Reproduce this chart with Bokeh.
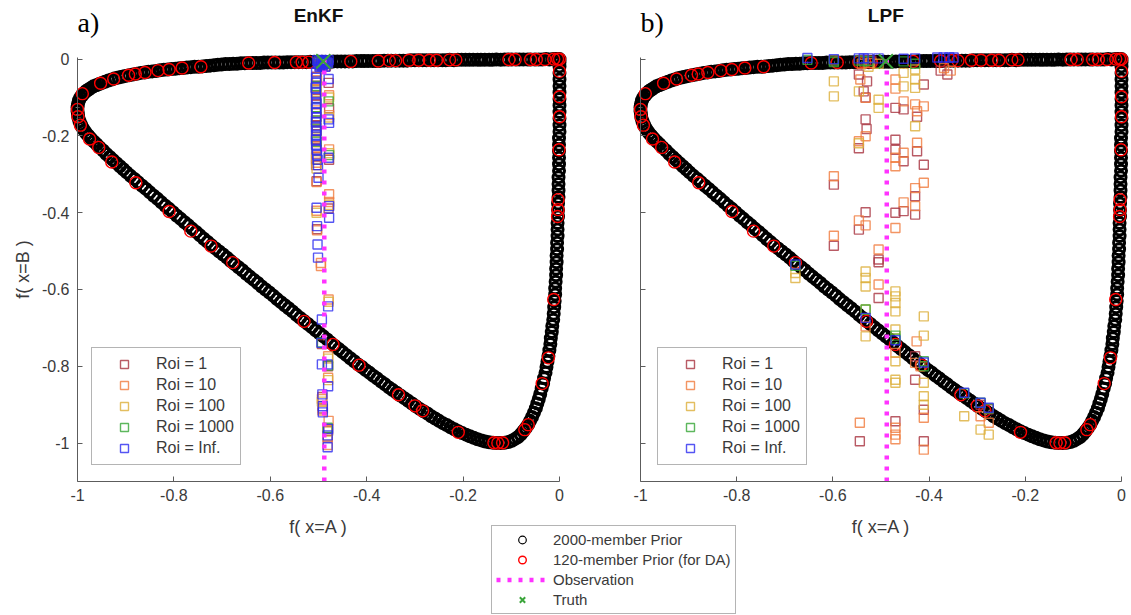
from bokeh.plotting import figure
from bokeh.models import (Range1d, LinearAxis, FixedTicker, CustomJSTickFormatter,
                          Legend, LegendItem, Label)
from bokeh.embed import file_html
from bokeh.resources import INLINE

# ---------------- data ----------------
tick_values = [-1.0, -0.8, -0.6, -0.4, -0.2, 0.0]
y_lim = [-1.1, 0.005]
obs_x = -0.488
truth_x = [-0.490]
truth_y = [-0.006]

prior_top_x = [0.000, -0.007, -0.013, -0.021, -0.028, -0.036, -0.043, -0.051, -0.060, -0.066,
               -0.075, -0.083, -0.090, -0.099, -0.107, -0.114, -0.122, -0.131, -0.139, -0.146,
               -0.155, -0.163, -0.170, -0.179, -0.187, -0.195, -0.203, -0.211, -0.219, -0.228,
               -0.236, -0.243, -0.252, -0.260, -0.267, -0.276, -0.284, -0.292, -0.300, -0.308,
               -0.316, -0.324, -0.332, -0.340, -0.349, -0.356, -0.364, -0.373, -0.381, -0.388,
               -0.397, -0.405, -0.412, -0.421, -0.429, -0.437, -0.445, -0.453, -0.461, -0.469,
               -0.477, -0.485, -0.493, -0.501, -0.509, -0.517, -0.525, -0.533, -0.541, -0.549,
               -0.557, -0.565, -0.573, -0.581, -0.589, -0.597, -0.605, -0.613, -0.621, -0.629,
               -0.637, -0.645, -0.653, -0.661, -0.669, -0.677, -0.685, -0.693, -0.701, -0.709,
               -0.717, -0.725, -0.733, -0.741, -0.749, -0.757, -0.765, -0.773, -0.781, -0.789,
               -0.797, -0.805, -0.813, -0.821, -0.829, -0.837, -0.845, -0.853, -0.861, -0.869,
               -0.877, -0.885, -0.893, -0.901]
prior_top_y = [0.000, 0.000, 0.000, -0.001, 0.000, -0.001, -0.001, -0.001, -0.001, -0.001,
               -0.001, -0.001, -0.001, -0.001, -0.001, -0.001, -0.002, -0.001, -0.002, -0.002,
               -0.002, -0.002, -0.002, -0.002, -0.002, -0.002, -0.002, -0.002, -0.003, -0.002,
               -0.003, -0.003, -0.003, -0.003, -0.003, -0.003, -0.003, -0.003, -0.003, -0.003,
               -0.004, -0.004, -0.004, -0.004, -0.004, -0.004, -0.004, -0.005, -0.005, -0.005,
               -0.005, -0.005, -0.005, -0.005, -0.006, -0.006, -0.006, -0.006, -0.006, -0.006,
               -0.007, -0.007, -0.007, -0.007, -0.007, -0.007, -0.008, -0.008, -0.008, -0.008,
               -0.008, -0.008, -0.009, -0.009, -0.009, -0.009, -0.009, -0.009, -0.010, -0.010,
               -0.010, -0.010, -0.011, -0.011, -0.012, -0.012, -0.013, -0.013, -0.014, -0.015,
               -0.016, -0.017, -0.018, -0.019, -0.020, -0.020, -0.021, -0.022, -0.023, -0.024,
               -0.025, -0.026, -0.027, -0.028, -0.029, -0.031, -0.032, -0.033, -0.035, -0.036,
               -0.038, -0.040, -0.042, -0.044]

prior_bend_x = [-0.908, -0.915, -0.922, -0.929, -0.936, -0.943, -0.949, -0.955, -0.961, -0.967,
                -0.972, -0.977, -0.982, -0.986, -0.990, -0.994, -0.997, -0.999, -1.000, -1.000,
                -0.999, -0.998, -0.996, -0.993, -0.990, -0.986, -0.982, -0.977, -0.972, -0.966,
                -0.960, -0.954, -0.947, -0.940, -0.933, -0.926, -0.919, -0.912, -0.905]
prior_bend_y = [-0.046, -0.048, -0.050, -0.053, -0.056, -0.059, -0.062, -0.065, -0.068, -0.071,
                -0.075, -0.079, -0.083, -0.088, -0.094, -0.100, -0.108, -0.117, -0.126, -0.135,
                -0.144, -0.153, -0.162, -0.170, -0.178, -0.186, -0.193, -0.200, -0.207, -0.215,
                -0.222, -0.230, -0.238, -0.247, -0.255, -0.263, -0.271, -0.279, -0.287]

prior_diag_x = [-0.898, -0.890, -0.882, -0.874, -0.866, -0.858, -0.850, -0.842, -0.834, -0.826,
                -0.818, -0.810, -0.802, -0.794, -0.786, -0.778, -0.770, -0.762, -0.754, -0.746,
                -0.738, -0.730, -0.722, -0.714, -0.706, -0.698, -0.690, -0.682, -0.674, -0.666,
                -0.658, -0.650, -0.642, -0.634, -0.626, -0.618, -0.610, -0.602, -0.594, -0.586,
                -0.578, -0.570, -0.562, -0.554, -0.546, -0.538, -0.530, -0.522, -0.514, -0.506,
                -0.498, -0.490, -0.482, -0.474, -0.466, -0.458, -0.450, -0.442, -0.434, -0.426,
                -0.418, -0.410, -0.402, -0.394, -0.386, -0.378, -0.370, -0.362, -0.354, -0.346,
                -0.338, -0.330, -0.322, -0.314, -0.306, -0.298, -0.290, -0.282, -0.274, -0.266,
                -0.258, -0.250, -0.242, -0.234, -0.226, -0.218, -0.210, -0.202]
prior_diag_y = [-0.295, -0.304, -0.312, -0.321, -0.330, -0.338, -0.347, -0.356, -0.364, -0.373,
                -0.382, -0.390, -0.399, -0.408, -0.416, -0.425, -0.433, -0.442, -0.450, -0.459,
                -0.468, -0.476, -0.485, -0.493, -0.501, -0.509, -0.517, -0.526, -0.534, -0.542,
                -0.550, -0.559, -0.567, -0.575, -0.583, -0.592, -0.600, -0.608, -0.616, -0.625,
                -0.633, -0.641, -0.649, -0.657, -0.666, -0.674, -0.682, -0.690, -0.698, -0.706,
                -0.714, -0.722, -0.730, -0.739, -0.747, -0.755, -0.763, -0.771, -0.779, -0.787,
                -0.795, -0.802, -0.810, -0.817, -0.825, -0.832, -0.840, -0.847, -0.855, -0.862,
                -0.869, -0.876, -0.883, -0.890, -0.897, -0.904, -0.911, -0.917, -0.923, -0.930,
                -0.936, -0.942, -0.948, -0.953, -0.959, -0.964, -0.969, -0.974]

prior_right_x = [-0.194, -0.186, -0.178, -0.170, -0.162, -0.154, -0.146, -0.138, -0.130, -0.122,
                 -0.114, -0.106, -0.099, -0.092, -0.086, -0.080, -0.075, -0.070, -0.065, -0.061,
                 -0.057, -0.053, -0.049, -0.046, -0.043, -0.040, -0.037, -0.034, -0.032, -0.029,
                 -0.027, -0.025, -0.023, -0.021, -0.019, -0.018, -0.016, -0.015, -0.013, -0.012,
                 -0.011, -0.010, -0.009, -0.009, -0.008, -0.007, -0.007, -0.006, -0.006, -0.005,
                 -0.005, -0.004, -0.004, -0.004, -0.003, -0.003, -0.003, -0.002, -0.002, -0.002,
                 -0.002, -0.001, -0.001, -0.001, -0.001, -0.001, -0.001, 0.000, 0.000, 0.000,
                 0.000, 0.000, 0.000, 0.000, 0.000, 0.000, 0.000, 0.000, 0.000]
prior_right_y = [-0.978, -0.982, -0.986, -0.990, -0.993, -0.996, -0.998, -0.999, -1.000, -1.000,
                 -0.999, -0.997, -0.994, -0.989, -0.984, -0.977, -0.969, -0.961, -0.952, -0.942,
                 -0.932, -0.921, -0.909, -0.897, -0.885, -0.872, -0.858, -0.845, -0.831, -0.817,
                 -0.802, -0.788, -0.773, -0.758, -0.742, -0.727, -0.711, -0.695, -0.679, -0.663,
                 -0.646, -0.630, -0.613, -0.597, -0.580, -0.563, -0.546, -0.529, -0.512, -0.495,
                 -0.478, -0.461, -0.444, -0.427, -0.410, -0.393, -0.376, -0.359, -0.342, -0.325,
                 -0.308, -0.291, -0.274, -0.257, -0.240, -0.223, -0.206, -0.189, -0.172, -0.155,
                 -0.138, -0.121, -0.104, -0.087, -0.070, -0.053, -0.036, -0.019, -0.008]

da_prior_x = [0.000, -0.004, -0.012, -0.030, -0.048, -0.060, -0.092, -0.105, -0.215, -0.228,
              -0.255, -0.270, -0.292, -0.312, -0.340, -0.353, -0.376, -0.433, -0.520, -0.534,
              -0.546, -0.591, -0.645, -0.744, -0.783, -0.810, -0.833, -0.860, -0.880, -0.894,
              -0.925, -0.952, -0.990, -1.000, -0.999, -0.994, -0.975, -0.956, -0.929, -0.879,
              -0.810, -0.765, -0.723, -0.678, -0.530, -0.470, -0.416, -0.334, -0.300, -0.284,
              -0.210, -0.136, -0.128, -0.118, -0.072, -0.065, -0.036, -0.023, -0.012, -0.001,
              -0.003, -0.003, 0.000, 0.000, 0.000, -0.004]
da_prior_y = [0.000, 0.000, 0.000, -0.001, -0.001, -0.001, -0.001, -0.001, -0.002, -0.002,
              -0.003, -0.003, -0.003, -0.003, -0.004, -0.004, -0.005, -0.006, -0.008, -0.008,
              -0.008, -0.009, -0.010, -0.020, -0.023, -0.027, -0.030, -0.035, -0.039, -0.042,
              -0.052, -0.063, -0.090, -0.131, -0.150, -0.172, -0.208, -0.230, -0.268, -0.322,
              -0.397, -0.448, -0.487, -0.530, -0.683, -0.743, -0.797, -0.874, -0.903, -0.916,
              -0.972, -0.999, -1.000, -0.999, -0.965, -0.952, -0.845, -0.778, -0.626, -0.236,
              -0.366, -0.392, -0.150, -0.098, -0.032, -0.410]

# EnKF analysis members (panel a)
enkf_1_x = [-0.499, -0.493, -0.487, -0.481, -0.497, -0.485, -0.504, -0.505, -0.505, -0.504,
            -0.505, -0.504, -0.505, -0.504, -0.503, -0.479, -0.478, -0.478, -0.479, -0.493,
            -0.492, -0.491, -0.480, -0.480, -0.481, -0.505, -0.505, -0.504, -0.505]
enkf_1_y = [-0.008, -0.011, -0.009, -0.013, -0.017, -0.019, -0.046, -0.080, -0.118, -0.150,
            -0.203, -0.232, -0.262, -0.318, -0.443, -0.062, -0.128, -0.262, -0.389, -0.742,
            -0.880, -0.910, -0.800, -0.968, -0.985, -0.095, -0.172, -0.188, -0.276]
enkf_10_x = [-0.499, -0.492, -0.486, -0.503, -0.505, -0.505, -0.505, -0.505, -0.504, -0.504,
             -0.504, -0.503, -0.495, -0.495, -0.478, -0.478, -0.478, -0.478, -0.478, -0.479,
             -0.480, -0.480, -0.479, -0.493, -0.492, -0.481, -0.481, -0.505, -0.505, -0.505,
             -0.504]
enkf_10_y = [-0.012, -0.015, -0.013, -0.055, -0.110, -0.140, -0.210, -0.255, -0.270, -0.320,
             -0.395, -0.446, -0.531, -0.539, -0.094, -0.146, -0.235, -0.352, -0.372, -0.626,
             -0.774, -0.830, -0.942, -0.885, -0.915, -0.963, -1.005, -0.072, -0.160, -0.186,
             -0.228]
enkf_100_x = [-0.498, -0.491, -0.485, -0.504, -0.505, -0.505, -0.505, -0.504, -0.504, -0.478,
              -0.478, -0.478, -0.478, -0.479, -0.480, -0.480, -0.493, -0.481, -0.505, -0.505,
              -0.504]
enkf_100_y = [-0.010, -0.013, -0.011, -0.085, -0.125, -0.180, -0.240, -0.285, -0.400, -0.100,
              -0.152, -0.245, -0.380, -0.632, -0.780, -0.836, -0.892, -0.970, -0.058, -0.215,
              -0.262]
enkf_1000_x = [-0.500, -0.494, -0.488, -0.482, -0.505, -0.505, -0.504, -0.479, -0.478, -0.493,
               -0.480, -0.481, -0.505]
enkf_1000_y = [-0.006, -0.010, -0.007, -0.012, -0.070, -0.160, -0.215, -0.110, -0.250, -0.738,
               -0.798, -0.960, -0.125]
enkf_inf_x = [-0.503, -0.499, -0.495, -0.491, -0.487, -0.483, -0.479, -0.501, -0.496, -0.490,
              -0.485, -0.480, -0.498, -0.492, -0.486, -0.505, -0.505, -0.505, -0.506, -0.505,
              -0.505, -0.504, -0.505, -0.504, -0.505, -0.505, -0.505, -0.504, -0.505, -0.505,
              -0.505, -0.504, -0.503, -0.502, -0.501, -0.500, -0.479, -0.479, -0.478, -0.479,
              -0.478, -0.478, -0.493, -0.494, -0.493, -0.492, -0.491, -0.491, -0.480, -0.481,
              -0.480, -0.480, -0.481, -0.481, -0.504, -0.503, -0.502, -0.501]
enkf_inf_y = [-0.003, -0.006, -0.002, -0.009, -0.004, -0.007, -0.003, -0.012, -0.016, -0.014,
              -0.012, -0.010, -0.020, -0.019, -0.020, -0.035, -0.049, -0.062, -0.075, -0.088,
              -0.101, -0.115, -0.128, -0.140, -0.152, -0.165, -0.178, -0.186, -0.197, -0.210,
              -0.223, -0.236, -0.249, -0.262, -0.276, -0.309, -0.052, -0.157, -0.166, -0.257,
              -0.383, -0.413, -0.678, -0.739, -0.795, -0.873, -0.904, -0.920, -0.644, -0.795,
              -0.852, -0.963, -0.980, -1.011, -0.387, -0.435, -0.483, -0.517]

# LPF analysis members (panel b)
lpf_1_x = [-0.546, -0.529, -0.536, -0.532, -0.470, -0.453, -0.425, -0.411, -0.532, -0.530,
           -0.546, -0.470, -0.470, -0.453, -0.425, -0.411, -0.598, -0.429, -0.429, -0.453,
           -0.470, -0.532, -0.546, -0.598, -0.505, -0.376, -0.362, -0.505, -0.505, -0.429,
           -0.429, -0.411, -0.544, -0.470, -0.411, -0.536, -0.520, -0.598, -0.293, -0.276]
lpf_1_y = [-0.040, -0.058, -0.084, -0.100, -0.127, -0.131, -0.150, -0.066, -0.157, -0.182,
           -0.232, -0.210, -0.236, -0.266, -0.240, -0.275, -0.327, -0.357, -0.405, -0.396,
           -0.400, -0.399, -0.444, -0.486, -0.522, -0.030, -0.040, -0.529, -0.622, -0.774,
           -0.835, -0.913, -0.995, -0.943, -0.995, -0.002, -0.004, -0.003, -0.900, -0.912]
lpf_10_x = [-0.543, -0.532, -0.470, -0.470, -0.453, -0.429, -0.411, -0.425, -0.532, -0.546,
            -0.470, -0.470, -0.453, -0.425, -0.598, -0.411, -0.429, -0.429, -0.453, -0.470,
            -0.532, -0.546, -0.598, -0.505, -0.369, -0.355, -0.505, -0.532, -0.470, -0.426,
            -0.429, -0.411, -0.293, -0.276, -0.544, -0.470, -0.470, -0.470, -0.411, -0.418,
            -0.524, -0.540]
lpf_10_y = [-0.053, -0.101, -0.053, -0.077, -0.110, -0.118, -0.123, -0.136, -0.201, -0.214,
            -0.257, -0.279, -0.244, -0.218, -0.305, -0.322, -0.336, -0.383, -0.373, -0.440,
            -0.433, -0.420, -0.460, -0.496, -0.023, -0.030, -0.587, -0.696, -0.765, -0.735,
            -0.791, -0.934, -0.930, -0.947, -0.947, -0.960, -0.978, -0.990, -1.017, -0.800,
            -0.010, -0.012]
lpf_100_x = [-0.598, -0.598, -0.546, -0.505, -0.505, -0.453, -0.453, -0.429, -0.429, -0.429,
             -0.429, -0.546, -0.532, -0.532, -0.532, -0.470, -0.470, -0.470, -0.470, -0.532,
             -0.532, -0.470, -0.470, -0.470, -0.470, -0.411, -0.411, -0.411, -0.411, -0.411,
             -0.327, -0.293, -0.276, -0.678, -0.678, -0.505, -0.526]
lpf_100_y = [-0.058, -0.097, -0.084, -0.106, -0.127, -0.036, -0.071, -0.027, -0.053, -0.075,
             -0.175, -0.219, -0.553, -0.570, -0.592, -0.605, -0.618, -0.635, -0.657, -0.652,
             -0.722, -0.704, -0.787, -0.835, -0.843, -0.670, -0.720, -0.843, -0.878, -0.900,
             -0.930, -0.965, -0.978, -0.557, -0.570, -0.012, -0.020]
lpf_1000_x = [-0.653, -0.598, -0.546, -0.536, -0.526, -0.453, -0.429, -0.532, -0.470, -0.411,
              -0.327, -0.293, -0.276, -0.678, -0.470, -0.411, -0.598]
lpf_1000_y = [-0.002, -0.004, -0.004, -0.006, -0.005, -0.006, -0.012, -0.652, -0.728, -0.787,
              -0.870, -0.895, -0.910, -0.538, -0.720, -0.800, -0.008]
lpf_inf_x = [-0.653, -0.598, -0.546, -0.536, -0.526, -0.505, -0.429, -0.383, -0.370, -0.358,
             -0.349, -0.678, -0.532, -0.470, -0.411, -0.327, -0.293, -0.276, -0.453]
lpf_inf_y = [0.003, 0.000, 0.002, 0.002, 0.002, 0.002, 0.002, 0.004, 0.004, 0.004,
             0.004, -0.535, -0.674, -0.732, -0.790, -0.869, -0.895, -0.908, 0.001]

roi_labels = ["Roi = 1", "Roi = 10", "Roi = 100", "Roi = 1000", "Roi = Inf."]
roi_colors = ["#a8323e", "#f07a3c", "#dcae38", "#35a535", "#2a2af0"]

# ---------------- figure ----------------
FONT = "Liberation Sans"
TXT = "#3a3a3a"
AXC = "#5c5c5c"

# the frame covers the whole canvas; both panels are mapped into it
p = figure(width=1131, height=615, x_range=Range1d(-1.15975, 1.18672),
           y_range=Range1d(-1.44896, 0.15260), x_axis_type=None, y_axis_type=None,
           toolbar_location=None, output_backend="svg",
           min_border_left=0, min_border_right=0, min_border_top=0, min_border_bottom=0)
p.extra_x_ranges = {"b": Range1d(-2.33056, 0.02079)}
p.outline_line_color = None
p.background_fill_color = "white"
p.border_fill_color = "white"

fmt = CustomJSTickFormatter(code="return String(Math.round(tick*10)/10);")
blank = CustomJSTickFormatter(code="return '';")


def make_axis(range_name, loc, labels, axis_label, vertical):
    ax = LinearAxis(x_range_name=range_name, fixed_location=loc,
                    bounds=(y_lim[0], y_lim[1]) if vertical else (tick_values[0], tick_values[-1]),
                    ticker=FixedTicker(ticks=tick_values),
                    formatter=fmt if labels else blank,
                    axis_label=axis_label)
    ax.axis_line_color = AXC
    ax.major_tick_line_color = AXC
    ax.major_tick_in = 5
    ax.major_tick_out = 0
    ax.minor_tick_line_color = None
    ax.major_label_text_font = FONT
    ax.major_label_text_font_size = "16px"
    ax.major_label_text_color = TXT
    ax.major_label_standoff = 8
    ax.axis_label_text_font = FONT
    ax.axis_label_text_font_size = "18px"
    ax.axis_label_text_font_style = "normal"
    ax.axis_label_text_color = TXT
    ax.axis_label_standoff = 6 if vertical else 12
    return ax


p.add_layout(make_axis("default", tick_values[0], True, "f( x=B )", True), "left")
p.add_layout(make_axis("default", y_lim[0], True, "f( x=A )", False), "below")
p.add_layout(make_axis("b", tick_values[0], False, "", True), "left")
p.add_layout(make_axis("b", y_lim[0], True, "f( x=A )", False), "below")

prior_x = prior_top_x + prior_bend_x + prior_diag_x + prior_right_x
prior_y = prior_top_y + prior_bend_y + prior_diag_y + prior_right_y

enkf_sets = [(enkf_1_x, enkf_1_y), (enkf_10_x, enkf_10_y), (enkf_100_x, enkf_100_y),
             (enkf_1000_x, enkf_1000_y), (enkf_inf_x, enkf_inf_y)]
lpf_sets = [(lpf_1_x, lpf_1_y), (lpf_10_x, lpf_10_y), (lpf_100_x, lpf_100_y),
            (lpf_1000_x, lpf_1000_y), (lpf_inf_x, lpf_inf_y)]

SQ = dict(marker="square", fill_color=None, line_width=1.4, line_alpha=0.8)

keys = {}
for panel, rname, sets in (("a", "default", enkf_sets), ("b", "b", lpf_sets)):
    # heavy stroke gives the dense band; a thin pass over the same points is the legend key
    p.scatter(prior_x, prior_y, marker="circle", size=11, fill_color=None,
              line_color="black", line_width=3, x_range_name=rname)
    r_black = p.scatter(prior_x, prior_y, marker="circle", size=11, fill_color=None,
                        line_color="black", line_width=1.2, x_range_name=rname)
    r_red = p.scatter(da_prior_x, da_prior_y, marker="circle", size=12, fill_color=None,
                      line_color="#ff0000", line_width=1.4, x_range_name=rname)
    roi_r = [p.scatter(xs, ys, size=9, line_color=col, x_range_name=rname, **SQ)
             for (xs, ys), col in zip(sets, roi_colors)]
    r_obs = p.line([obs_x, obs_x], y_lim, line_color="#ff33ff", line_width=4.5,
                   line_dash="4 7", x_range_name=rname)
    r_truth = p.scatter(truth_x, truth_y, marker="x", size=20, line_color="#3aa53a",
                        line_width=2, x_range_name=rname)
    leg = Legend(items=[LegendItem(label=l, renderers=[r]) for l, r in zip(roi_labels, roi_r)],
                 location=(91, 150) if panel == "a" else (657, 150))
    leg.label_text_font = FONT
    leg.label_text_font_size = "16px"
    leg.label_text_color = TXT
    leg.glyph_width = 52
    leg.glyph_height = 20
    leg.label_height = 20
    leg.label_standoff = 6
    leg.spacing = 1
    leg.padding = 6
    leg.margin = 0
    leg.border_line_color = "#6a6a6a"
    leg.border_line_width = 1
    p.add_layout(leg)
    if panel == "a":
        keys = dict(black=r_black, red=r_red, obs=r_obs, truth=r_truth)

bottom = Legend(items=[LegendItem(label="2000-member Prior", renderers=[keys["black"]]),
                       LegendItem(label="120-member Prior (for DA)", renderers=[keys["red"]]),
                       LegendItem(label="Observation", renderers=[keys["obs"]]),
                       LegendItem(label="Truth", renderers=[keys["truth"]])],
                location=(491, 1))
bottom.label_text_font = FONT
bottom.label_text_font_size = "15px"
bottom.label_text_color = TXT
bottom.glyph_width = 52
bottom.glyph_height = 19
bottom.label_height = 19
bottom.label_standoff = 5
bottom.spacing = 1
bottom.padding = 4
bottom.margin = 0
bottom.border_line_color = "#6a6a6a"
bottom.border_line_width = 1
p.add_layout(bottom)

for txt, rname, x, y, font, size, style, align in [
        ("EnKF", "default", -0.5, 0.113, FONT, "19px", "bold", "center"),
        ("LPF", "b", -0.49, 0.113, FONT, "19px", "bold", "center"),
        ("a)", "default", -1.0, 0.095, "Liberation Serif", "28px", "normal", "left"),
        ("b)", "b", -1.0, 0.095, "Liberation Serif", "28px", "normal", "left")]:
    p.add_layout(Label(x=x, y=y, x_range_name=rname, text=txt, text_font=font,
                       text_font_size=size, text_font_style=style, text_align=align,
                       text_baseline="middle", text_color="#111111" if style == "bold" else "black"))

open("out.html", "w").write(file_html(p, INLINE))
